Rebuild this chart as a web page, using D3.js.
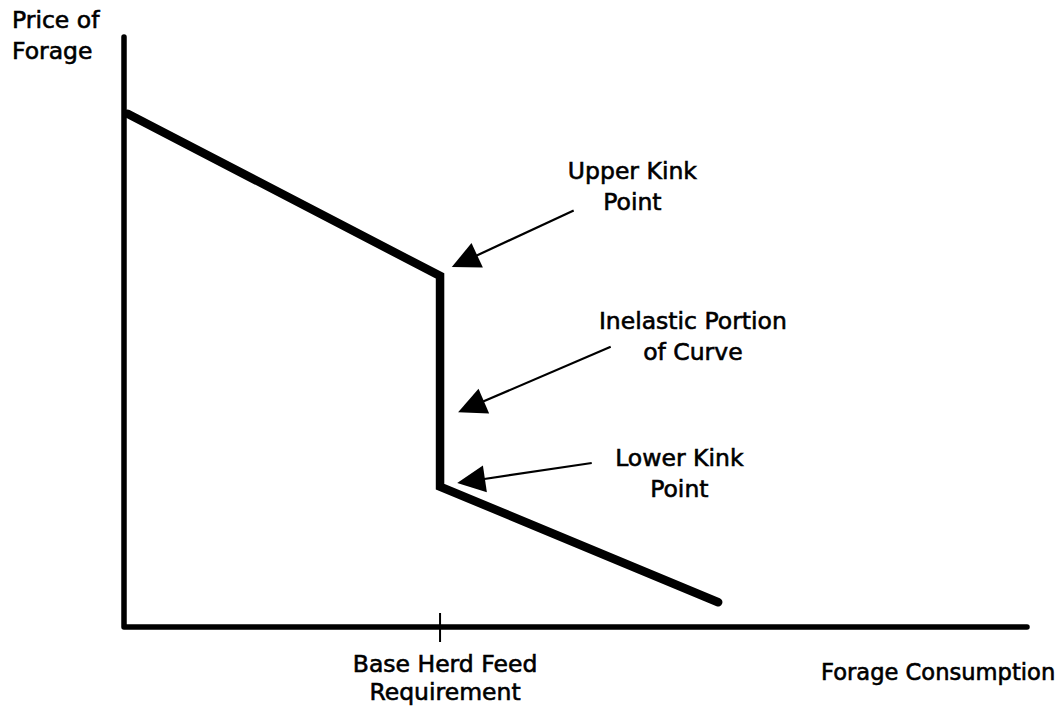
<!DOCTYPE html>
<html>
<head>
<meta charset="utf-8">
<script src="https://cdn.jsdelivr.net/npm/d3@7"></script>
<style>
  html, body { margin: 0; padding: 0; background: #fff; }
  svg { display: block; }
  text { font-family: "DejaVu Sans", sans-serif; fill: #000; stroke: #000; stroke-width: 0.6px; }
</style>
</head>
<body>
<svg id="chart" width="1063" height="709"></svg>
<script>
// ---- data (abstract units, 0..100 on both axes) ----
const curveX = [0.4, 35.0, 35.0, 65.8];
const curveY = [87.0, 59.5, 23.8, 4.2];
const baseTickX = [35.0];
const xAxisLabel = "Forage Consumption";
const yAxisLabel = ["Price of", "Forage"];
const tickLabel = ["Base Herd Feed", "Requirement"];
// annotations: label lines, arrow tip (data), arrow tail (data)
const annLabels = [["Upper Kink", "Point"], ["Inelastic Portion", "of Curve"], ["Lower Kink", "Point"]];
const annTipX  = [36.3, 37.0, 36.9];
const annTipY  = [61.0, 36.4, 24.4];
const annTailX = [49.8, 53.9, 51.8];
const annTailY = [70.6, 47.5, 27.8];
const annTextX = [56.3, 63.0, 61.5];
const annTextY = [76.0, 50.5, 27.3];

const svg = d3.select("#chart");
const x = d3.scaleLinear().domain([0, 100]).range([124, 1027]);
const y = d3.scaleLinear().domain([0, 100]).range([627, 37]);
const FS = 23.5;

// axes
svg.append("path")
  .attr("d", `M${x(0)},${y(100)} L${x(0)},${y(0)} L${x(100)},${y(0)}`)
  .attr("fill", "none").attr("stroke", "#000").attr("stroke-width", 5.5)
  .attr("stroke-linecap", "round").attr("stroke-linejoin", "round");

// tick at base herd feed requirement
svg.selectAll(".tick").data(baseTickX).enter().append("line")
  .attr("x1", d => x(d)).attr("x2", d => x(d))
  .attr("y1", y(0) - 14).attr("y2", y(0) + 15)
  .attr("stroke", "#000").attr("stroke-width", 2);

// demand curve
const pts = curveX.map((v, i) => [x(v), y(curveY[i])]);
svg.append("path")
  .attr("d", d3.line()(pts))
  .attr("fill", "none").attr("stroke", "#000").attr("stroke-width", 8.5)
  .attr("stroke-linecap", "round").attr("stroke-linejoin", "miter");

// annotation arrows
annLabels.forEach((lab, i) => {
  const tx = x(annTipX[i]), ty = y(annTipY[i]);
  const sx = x(annTailX[i]), sy = y(annTailY[i]);
  const dx = sx - tx, dy = sy - ty, L = Math.hypot(dx, dy);
  const ux = dx / L, uy = dy / L;
  const hl = 28, hw = 13.5;
  const bx = tx + ux * hl, by = ty + uy * hl;
  svg.append("line")
    .attr("x1", bx - ux * 4).attr("y1", by - uy * 4)
    .attr("x2", sx).attr("y2", sy)
    .attr("stroke", "#000").attr("stroke-width", 2.2);
  svg.append("path")
    .attr("d", `M${tx},${ty} L${bx - uy * hw},${by + ux * hw} L${bx + uy * hw},${by - ux * hw} Z`)
    .attr("fill", "#000");
  lab.forEach((t, j) => {
    svg.append("text")
      .attr("x", x(annTextX[i])).attr("y", y(annTextY[i]) + j * 31)
      .attr("text-anchor", "middle").attr("font-size", FS)
      .text(t);
  });
});

// axis labels
yAxisLabel.forEach((t, j) => {
  svg.append("text").attr("x", 12).attr("y", 28 + j * 31)
    .attr("font-size", FS).text(t);
});
tickLabel.forEach((t, j) => {
  svg.append("text").attr("x", x(baseTickX[0]) + 5).attr("y", 672 + j * 28)
    .attr("text-anchor", "middle").attr("font-size", FS).text(t);
});
svg.append("text").attr("x", 821).attr("y", 680)
  .attr("font-size", 22.6).text(xAxisLabel);
</script>
</body>
</html>
